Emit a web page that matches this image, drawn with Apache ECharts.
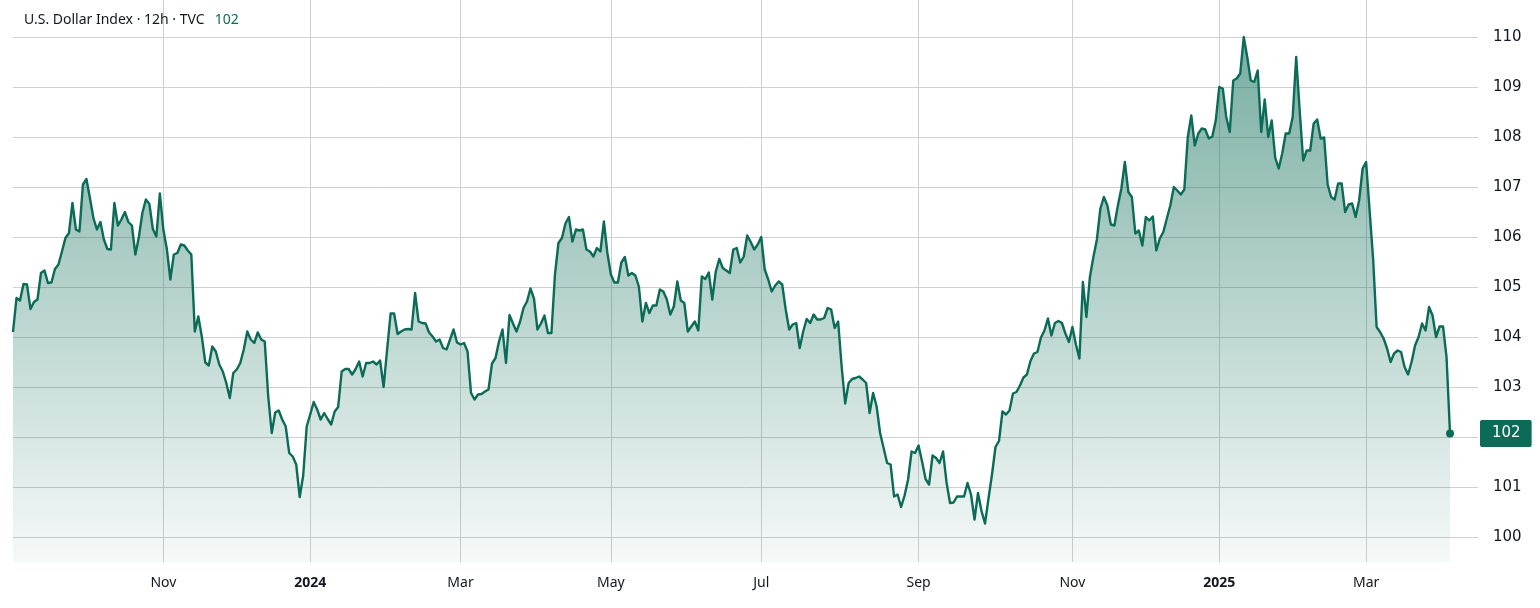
<!DOCTYPE html>
<html><head><meta charset="utf-8">
<script src="https://cdn.jsdelivr.net/npm/echarts@6/dist/echarts.min.js"></script>
<style>html,body{margin:0;padding:0;background:#fff}#c{width:1540px;height:608px}</style>
</head><body><div id="c"></div>
<script>
// ---- data ----
const titleText = 'U.S. Dollar Index · 12h · TVC';
const startDate = '2023-09-01';
const holidays = ['2023-12-25','2024-01-01','2024-12-25','2025-01-01'];
const padBars = 8;
const monthNames = ['Jan','Feb','Mar','Apr','May','Jun','Jul','Aug','Sep','Oct','Nov','Dec'];
const yMin = 99.5, yMax = 110.74;
const closes = [
104.1,104.78,104.73,105.06,105.05,104.56,104.7,104.75,105.28,105.33,
105.08,105.09,105.36,105.45,105.71,105.98,106.08,106.68,106.15,106.11,
107.05,107.16,106.78,106.38,106.15,106.3,105.95,105.76,105.75,106.68,
106.23,106.35,106.5,106.3,106.23,105.65,106.0,106.48,106.75,106.66,
106.16,106.01,106.87,106.15,105.76,105.15,105.65,105.68,105.85,105.83,
105.73,105.65,104.11,104.41,104.01,103.49,103.43,103.81,103.71,103.45,
103.31,103.08,102.78,103.28,103.35,103.48,103.75,104.11,103.95,103.88,
104.09,103.95,103.91,102.81,102.08,102.49,102.53,102.35,102.21,101.68,
101.61,101.45,100.8,101.23,102.21,102.45,102.7,102.55,102.35,102.48,
102.36,102.25,102.51,102.6,103.31,103.36,103.36,103.25,103.36,103.51,
103.21,103.48,103.48,103.51,103.45,103.53,103.0,103.75,104.47,104.47,
104.06,104.11,104.15,104.16,104.15,104.88,104.31,104.28,104.27,104.09,
104.01,103.91,103.95,103.78,103.75,103.95,104.15,103.89,103.85,103.88,
103.71,102.88,102.75,102.85,102.86,102.91,102.95,103.47,103.58,103.91,
104.15,103.48,104.44,104.27,104.11,104.3,104.58,104.71,104.97,104.77,
104.15,104.27,104.43,104.08,104.08,105.25,105.88,105.98,106.27,106.4,
105.91,106.15,106.13,106.15,105.75,105.71,105.61,105.78,105.71,106.31,
105.68,105.25,105.09,105.09,105.49,105.6,105.23,105.28,105.23,105.01,
104.31,104.68,104.48,104.63,104.63,104.95,104.91,104.75,104.45,104.61,
105.11,104.73,104.68,104.11,104.21,104.31,104.13,105.21,105.16,105.29,
104.75,105.31,105.56,105.38,105.33,105.28,105.75,105.78,105.49,105.61,
106.03,105.9,105.75,105.85,106.0,105.35,105.15,104.91,105.03,105.11,
105.05,104.55,104.15,104.25,104.28,103.78,104.11,104.36,104.28,104.45,
104.35,104.35,104.38,104.58,104.55,104.18,104.31,103.41,102.67,103.08,
103.16,103.18,103.21,103.15,103.08,102.48,102.88,102.61,102.08,101.78,
101.48,101.45,100.81,100.85,100.6,100.83,101.15,101.71,101.68,101.83,
101.51,101.16,101.05,101.63,101.58,101.48,101.71,101.09,100.68,100.69,
100.81,100.81,100.81,101.08,100.85,100.35,100.88,100.52,100.27,100.77,
101.25,101.8,101.92,102.51,102.45,102.53,102.87,102.9,103.03,103.19,
103.25,103.52,103.67,103.7,103.99,104.13,104.37,104.03,104.28,104.32,
104.28,104.07,103.9,104.2,103.85,103.57,105.1,104.4,105.2,105.6,
105.95,106.57,106.8,106.63,106.25,106.23,106.63,106.97,107.5,106.9,
106.8,106.07,106.13,105.83,106.4,106.33,106.41,105.73,105.97,106.1,
106.37,106.63,107.0,106.93,106.85,106.95,108.0,108.43,107.83,108.07,
108.17,108.15,107.97,108.01,108.33,109.0,108.97,108.4,108.1,109.13,
109.17,109.27,110.0,109.6,109.13,109.1,109.33,108.1,108.75,108.0,
108.33,107.59,107.37,107.67,108.07,108.07,108.4,109.6,108.53,107.53,
107.73,107.73,108.27,108.35,107.97,107.99,107.05,106.8,106.75,107.07,
107.07,106.5,106.65,106.67,106.4,106.73,107.37,107.5,106.53,105.57,
104.2,104.1,103.97,103.77,103.5,103.67,103.73,103.7,103.4,103.25,
103.5,103.83,104.0,104.27,104.13,104.6,104.43,104.0,104.21,104.21,
103.6,102.07
];

// ---- build category table ----
function buildDates(n){
  const out=[]; const d=new Date(startDate+'T00:00:00Z');
  while(out.length<n){
    const wd=d.getUTCDay(); const s=d.toISOString().slice(0,10);
    if(wd!==0 && wd!==6 && holidays.indexOf(s)<0) out.push(s);
    d.setUTCDate(d.getUTCDate()+1);
  }
  return out;
}
const dates = buildDates(closes.length + padBars);
function isTick(i){
  if(i<=0) return false;
  if(dates[i].slice(0,7)===dates[i-1].slice(0,7)) return false;
  return (parseInt(dates[i].slice(5,7),10)-1)%2===0;
}
const lastIdx = closes.length-1, lastVal = closes[lastIdx];
const GREEN = '#0b6b56';
const TXT = '#131722';

const chart = echarts.init(document.getElementById('c'), null, {renderer:'canvas'});
chart.setOption({
  animation:false,
  backgroundColor:'#ffffff',
  title:{
    left:19, top:6,
    text:'{a|'+titleText+'}  {b|'+Math.round(lastVal)+'}',
    textStyle:{fontWeight:'normal', rich:{
      a:{fontFamily:'Noto Sans',fontSize:14,fontWeight:'normal',color:TXT},
      b:{fontFamily:'Noto Sans',fontSize:14,fontWeight:'normal',color:GREEN}
    }}
  },
  grid:{left:13,right:62,top:0,bottom:46,containLabel:false,outerBoundsMode:'none'},
  xAxis:{
    type:'category', data:dates, boundaryGap:false,
    axisLine:{show:false}, axisTick:{show:false},
    axisLabel:{
      interval:(i)=>isTick(i), margin:14,
      fontFamily:'Noto Sans', fontSize:14, color:TXT,
      formatter:(v)=>{const m=parseInt(v.slice(5,7),10)-1; return m===0?'{y|'+v.slice(0,4)+'}':monthNames[m];},
      rich:{y:{fontFamily:'Noto Sans',fontSize:14,fontWeight:'bold',color:TXT}}
    },
    splitLine:{show:true, interval:(i)=>isTick(i), lineStyle:{color:'#d0d0d0',width:1}}
  },
  yAxis:[{
    type:'value', position:'right', min:yMin, max:yMax, minInterval:1, maxInterval:1,
    axisLine:{show:false}, axisTick:{show:false},
    axisLabel:{showMinLabel:false, showMaxLabel:false, margin:15,
      fontFamily:'DejaVu Sans', fontSize:15, color:TXT},
    splitLine:{show:true, showMinLine:false, showMaxLine:false, lineStyle:{color:'#d0d0d0',width:1}}
  },{
    type:'value', position:'right', min:yMin, max:yMax, z:10,
    axisLine:{show:false}, axisTick:{show:false}, splitLine:{show:false},
    axisLabel:{customValues:[lastVal], showMinLabel:true, showMaxLabel:true, margin:2,
      formatter:(v)=>String(Math.round(v)),
      backgroundColor:GREEN, color:'#fff', fontFamily:'DejaVu Sans', fontSize:15,
      padding:[6,11,6,12], borderRadius:2}
  }],
  series:[{
    type:'line', data:closes, showSymbol:false, symbol:'none', yAxisIndex:0,
    lineStyle:{color:GREEN,width:2.4,join:'round'},
    areaStyle:{opacity:1, color:new echarts.graphic.LinearGradient(0,0,0,1,[
      {offset:0,color:'rgba(11,107,86,0.55)'},
      {offset:1,color:'rgba(11,107,86,0.04)'}])},
    markPoint:{silent:true, symbol:'circle', symbolSize:8, label:{show:false},
      itemStyle:{color:GREEN},
      data:[{coord:[lastIdx,lastVal]}]},
    z:3
  }]
});
</script></body></html>
